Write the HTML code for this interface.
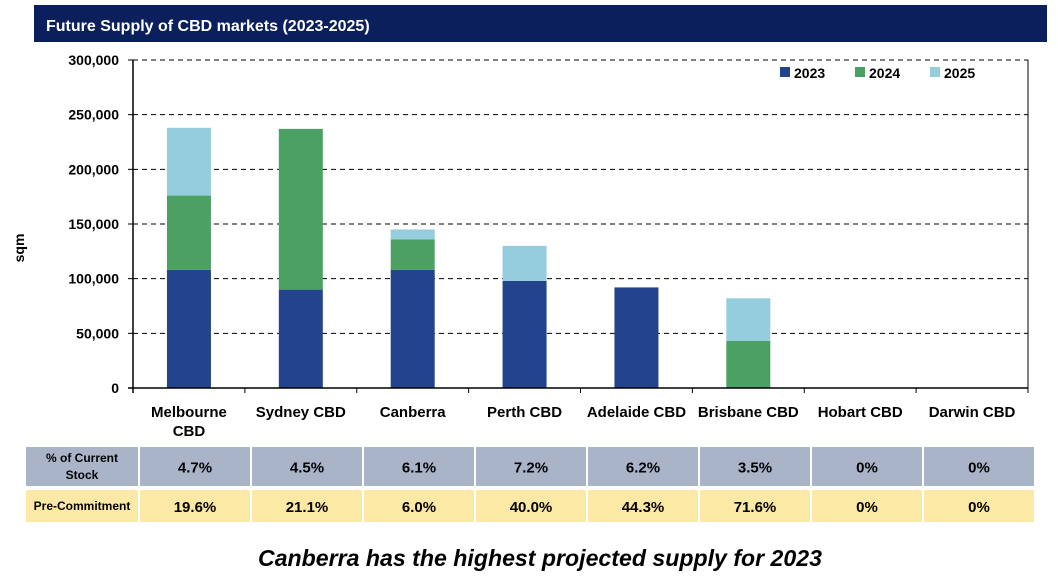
<!DOCTYPE html>
<html><head><meta charset="utf-8"><style>
body{margin:0;background:#fff;font-family:"Liberation Sans",sans-serif;}
</style></head><body>
<svg width="1058" height="577" xmlns="http://www.w3.org/2000/svg" font-family="Liberation Sans, sans-serif">
<rect x="34" y="5" width="1013" height="37" fill="#0b1f5c"/>
<text x="46" y="31" fill="#fff" font-size="16" font-weight="bold">Future Supply of CBD markets (2023-2025)</text>
<g id="grid"></g>
<g id="bars"></g>
<g id="axes"></g>
<text transform="translate(24,248) rotate(-90)" text-anchor="middle" font-size="14" font-weight="bold">sqm</text>
<g font-size="14" font-weight="bold">
<rect x="780" y="67" width="10" height="10" fill="#23448c"/><text x="794" y="78">2023</text>
<rect x="855" y="67" width="10" height="10" fill="#4ba064"/><text x="869" y="78">2024</text>
<rect x="930" y="67" width="10" height="10" fill="#95cddc"/><text x="944" y="78">2025</text>
</g>
<g id="table"></g>
<text x="540" y="566" text-anchor="middle" font-size="23" font-weight="bold" font-style="italic" textLength="564" lengthAdjust="spacingAndGlyphs">Canberra has the highest projected supply for 2023</text>
</svg>
<script>
const categories=[["Melbourne","CBD"],["Sydney CBD"],["Canberra"],["Perth CBD"],["Adelaide CBD"],["Brisbane CBD"],["Hobart CBD"],["Darwin CBD"]];
const s2023=[108000,90000,108000,98000,92000,0,0,0];
const s2024=[68000,147000,28000,0,0,43000,0,0];
const s2025=[62000,0,9000,32000,0,39000,0,0];
const yTicks=[0,50000,100000,150000,200000,250000,300000];
const stockPct=["4.7%","4.5%","6.1%","7.2%","6.2%","3.5%","0%","0%"];
const preCommit=["19.6%","21.1%","6.0%","40.0%","44.3%","71.6%","0%","0%"];
const NS="http://www.w3.org/2000/svg";
const X0=133,X1=1028,Y0=388,Y1=60,MAX=300000;
const bw=(X1-X0)/categories.length;
const y=v=>Y0-(v/MAX)*(Y0-Y1);
const xc=i=>X0+bw*(i+0.5);
function mk(t,a,p){const e=document.createElementNS(NS,t);for(const k in a)e.setAttribute(k,a[k]);p.appendChild(e);return e;}
const grid=document.getElementById('grid'),bars=document.getElementById('bars'),axes=document.getElementById('axes'),table=document.getElementById('table');
yTicks.forEach(v=>{
 if(v>0){const l=mk('line',{x1:X0,x2:X1,y1:y(v),y2:y(v),stroke:'#000','stroke-dasharray':'5,4','stroke-width':1},grid);
 
 }
 const t=mk('text',{x:X0-14,y:y(v)+5,'text-anchor':'end','font-size':14,'font-weight':'bold'},axes);
 t.textContent=v.toLocaleString('en-US');
 
 
 mk('line',{x1:X0-5,x2:X0,y1:y(v),y2:y(v),stroke:'#000'},axes);
});
const series=[[s2023,'#23448c'],[s2024,'#4ba064'],[s2025,'#95cddc']];
categories.forEach((c,i)=>{
 let base=0;
 series.forEach(([arr,col],si)=>{
  const v=arr[i];if(v>0){
   const r=mk('rect',{x:xc(i)-22,y:y(base+v),width:44,height:y(base)-y(base+v),fill:col},bars);
   
   }
  base+=v;});
 c.forEach((ln,j)=>{const t=mk('text',{x:xc(i),y:417+j*19,'text-anchor':'middle','font-size':15,'font-weight':'bold'},axes);t.textContent=ln;
  
  });
 mk('line',{x1:X0+bw*(i+1),x2:X0+bw*(i+1),y1:Y0,y2:Y0+5,stroke:'#000'},axes);
});
mk('line',{x1:X0,x2:X0,y1:Y1,y2:Y0+5,stroke:'#000','stroke-width':1.5},axes);
mk('line',{x1:X0-5,x2:X1,y1:Y0,y2:Y0,stroke:'#000','stroke-width':1.5},axes);
mk('line',{x1:X1,x2:X1,y1:Y1,y2:Y0,stroke:'#000'},axes);
mk('line',{x1:X0,x2:X1,y1:Y1,y2:Y1,stroke:'#000','stroke-dasharray':'5,4'},axes);
const tx=[25,139];for(let i=1;i<=8;i++)tx.push(139+i*(1035-139)/8);
[[stockPct,'#aab4c9',447,39,["% of Current","Stock"]],[preCommit,'#fde9a6',490,32,["Pre-Commitment"]]].forEach(([vals,col,ty,th,lbl],ri)=>{
 for(let c=0;c<9;c++){
  const r=mk('rect',{x:tx[c]+1,y:ty,width:tx[c+1]-tx[c]-2,height:th,fill:col},table);
  
  
  if(c===0){lbl.forEach((l,j)=>{const t=mk('text',{x:(tx[0]+tx[1])/2,y:ty+th/2+4+(lbl.length>1?(j-0.5)*17:0),'text-anchor':'middle','font-size':12,'font-weight':'bold'},table);t.textContent=l;});}
  else{const t=mk('text',{x:(tx[c]+tx[c+1])/2,y:ty+th/2+6,'text-anchor':'middle','font-size':15,'font-weight':'bold'},table);t.textContent=vals[c-1];}
 }
});
</script>
</body></html>
